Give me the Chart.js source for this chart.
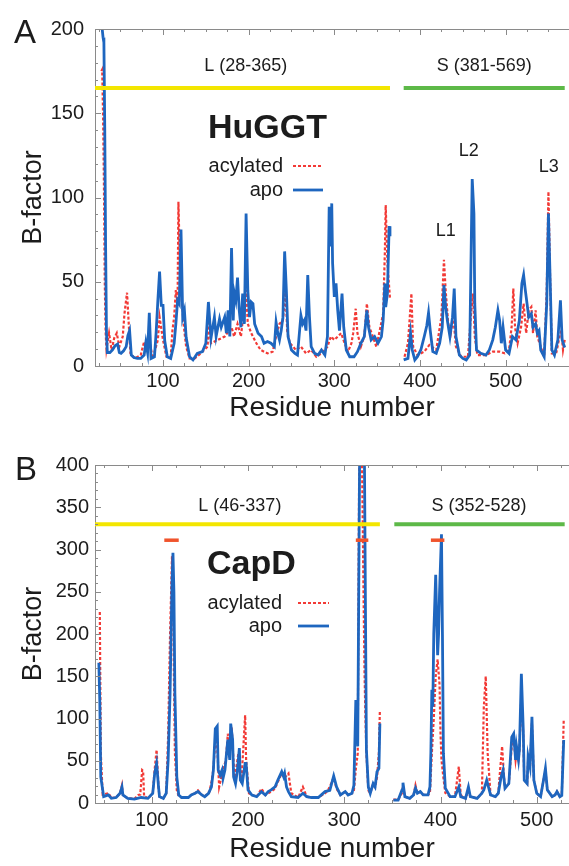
<!DOCTYPE html>
<html><head><meta charset="utf-8">
<script src="https://cdn.jsdelivr.net/npm/chart.js@4/dist/chart.umd.min.js"></script>
<style>
html,body{margin:0;padding:0;background:#fff;}
#wrap{position:relative;width:569px;height:866px;overflow:hidden;}
.box{position:absolute;left:0;width:569px;height:433px;}
</style></head><body>
<div id="wrap">
<div class="box" style="top:0"><canvas id="cA" width="569" height="433"></canvas></div>
<div class="box" style="top:433px"><canvas id="cB" width="569" height="433"></canvas></div>
</div>
<script>
// ---------- Panel A: HuGGT ----------
const aApoRes = [28,29,30,31,32,33,34,35,38,41,44,47,49,51,54,57,59,61,63,66,70,74,78,80,82,84,86,90,92,94,96,98,100,102,105,109,113,115,117,119,121,123,125,127,131,135,140,146,150,153,156,160,162,166,168,172,174,176,178,180,182,183,185,187,189,191,193,195,197,199,201,203,205,207,211,215,218,222,226,230,232,234,236,238,240,242,244,246,250,254,257,261,263,265,267,269,271,273,277,281,285,289,292,294,296,297,298,300,302,304,306,309,311,314,318,323,327,331,335,338,340,343,347,351,355,357,359,360,362,364,365,372,381,386,389,391,394,397,401,405,408,410,412,415,419,423,426,428,430,432,435,438,440,442,446,450,454,458,460,461,463,464,466,471,477,481,485,488,491,493,495,497,500,504,508,512,516,519,521,523,525,527,530,532,535,537,539,541,545,548,550,552,554,557,561,564,566,569];
const aApoVal = [230,200,195,192,140,70,20,8,8,9.5,12,13,8,7.5,9,11.5,18,21,6.5,5,4.5,4.5,6.5,14,8,31.5,4.5,5.5,20,39,56,36,36,15,5.5,4.5,13.5,25,39,37,81,29,33,17,5.5,3.6,7.5,8.5,13.5,38,16.5,29,17.5,28,23,29,19.5,33,17.5,70,27,44,39,52.5,33,23,43,25,90.5,45,29,38,37,25,19.5,17.5,13.5,14.5,13.5,11.5,26,19.5,15.5,21,29,68,45,17.5,9.5,7.5,6.5,30,25,27,21,54,29,11.5,7.5,6.5,9.5,6.5,17.5,94.5,71,96.5,61,41,49,33,21,43,23,9.5,5.5,5.5,8.5,13.5,17.5,33,23,15.5,17.5,13.5,17.5,27,49,35,43,83,77,null,3.6,4.5,19.5,9.5,3.6,5.5,9.5,17.5,24,31.5,21,8.5,7.5,13.5,23,48,35,27,17.5,29,46,17.5,6.5,4.5,3.6,6.5,77,111,90.5,37,9.5,7.5,6.5,9.5,15.5,23,33,27,13.5,23,9.5,7.5,17.5,15.5,27,49,54,45,37,29,31,23,25,19.5,21,9.5,5.5,37,90.5,51,9.5,6.5,15.5,39,15.5,11];
const aAcylRes = [28,29,30,31,32,33,34,37,40,43,46,49,53,55,58,60,62,67,74,78,81,84,88,94,96,100,104,109,111,113,115,117,118,120,122,124,127,131,137,144,152,154,156,164,172,180,183,187,191,197,199,203,209,214,222,228,232,236,240,243,245,248,252,255,261,267,273,279,285,292,296,300,304,308,312,316,320,322,325,327,331,335,338,341,345,349,353,357,359,360,362,364,365,372,382,386,390,392,397,405,411,419,425,428,430,433,436,439,442,448,456,460,462,464,467,477,485,493,499,504,507,509,511,514,518,521,524,527,530,532,535,537,541,545,548,550,552,554,559,563,565,567,569];
const aAcylVal = [175,176,150,110,50,20,10,19.5,9.5,16.5,19.5,11.5,17.5,31,43.5,25,7.5,4.5,6.5,14.5,10.5,15.5,4.5,15.5,29,15.5,5.5,5.5,21,29,45,37,97.5,55,39,25,11.5,4.5,4.5,7.5,11.5,27,13.5,15.5,17.5,23,17.5,25,17.5,45,25,19.5,13.5,9.5,7.5,8.5,17.5,25,27,45,21,13.5,11.5,9.5,11.5,7.5,9.5,5.5,7.5,11.5,17.5,15.5,17.5,19.5,13.5,8.5,13.5,19.5,34,19.5,11.5,17.5,37,23,17.5,11.5,21,31,67,95.5,61,47,40,null,5.5,13.5,43,11.5,6.5,8.5,12.5,9.5,29,63,45,25,19.5,29,11.5,5.5,5.5,33,43,17.5,6.5,6.5,8.5,8.5,7.5,9.5,23,46,23,13.5,23,37,19.5,33,35,19.5,33,17.5,11.5,5.5,45,103.5,51,7.5,7.5,17.5,21,9.5,15.5];
const aXTicks = [100,200,300,400,500];
const aYTicks = [0,50,100,150,200];
const aDomainLabels = ['L (28-365)','S (381-569)'];
const aDomainFrom = [20.6,381];
const aDomainTo = [365,569];
const aDomainLevel = 165;
const aLoopLabels = ['L1','L2','L3'];
const aLoopRes = [430,457,550.5];
const aLoopVal = [80,127.5,118];

// ---------- Panel B: CapD ----------
const bApoRes = [45,46,47,50,55,58,63,67,69,70,75,82,89,96,101,103,105,107,108,112,115,117,119,121,122,123,124,126,128,131,138,141,145,148,152,155,159,162,164,166,168,169,171,173,174,176,178,179,181,182,184,185,187,189,191,192,194,197,198,200,204,209,214,218,221,224,228,231,235,237,238,240,242,245,252,257,261,266,273,280,285,289,292,296,301,304,308,310,312,314,316,318,320,321,323,325,327,330,332,334,336,337,344,351,356,360,361,363,368,372,374,376,379,382,387,389,390,391,392,393,395,396,397,398,399,401,402,403,405,410,415,419,421,426,429,431,438,443,445,448,452,457,460,463,465,467,471,474,476,478,479,481,482,484,486,487,490,491,493,495,497,500,504,507,509,511,516,519,521,524,526,528];
const bApoVal = [166,120,31,7.5,9.5,5.5,6.5,11.5,19,9.5,5.5,4.5,6.5,5.5,11.5,35,47,19,7.5,5.5,11.5,51,130,260,296,250,130,31,9.5,6.5,6.5,9.5,11.5,13.5,9.5,7.5,11.5,19,39,88,91,39,33,39,29,39,63,75,51,94,75,31,23,39,65,27,23,47,47,15.5,9.5,7.5,13.5,9.5,13.5,15.5,19,27,37,31,35,19,13.5,7.5,6.5,11.5,7.5,6.5,6.5,13.5,15,32,19,9.5,13.5,9.5,11.5,21,122,67,420,600,480,400,63,19,11.5,23,19,37,41,94,null,3.5,3.5,15.5,24,7.5,5.5,9.5,17.5,11.5,13.5,9.5,9.5,19,60,134,114,200,270,220,175,200,250,318,200,59,17.5,7.5,7.5,19,7.5,5.5,19,7.5,5.5,11.5,15.5,27,9.5,7.5,11.5,31,39,17.5,23,78,82,51,67,51,63,153,86,27,23,55,43,102,27,11.5,7.5,27,41,15.5,7.5,9.5,13.5,7.5,9,74.5];
const bAcylRes = [46,47,49,55,58,63,67,69,70,75,82,86,88,90,91,92,96,101,103,105,107,108,112,115,117,119,121,122,123,124,126,128,131,138,141,145,148,152,155,160,162,164,166,168,170,174,177,179,181,183,186,190,193,197,198,201,204,209,214,218,224,228,231,235,238,242,245,252,257,261,266,273,280,283,286,289,292,296,301,304,308,310,312,314,315,316,318,320,321,322,323,325,327,330,332,334,336,337,344,351,356,360,361,363,368,372,374,376,379,382,387,389,391,393,395,397,399,400,401,403,405,410,415,419,421,426,429,431,438,443,445,447,449,452,457,460,462,464,466,467,471,474,476,478,479,481,482,484,486,487,490,491,493,495,497,500,504,507,509,511,516,519,521,524,526,528];
const bAcylVal = [226,60,10,11.5,6,6.5,11.5,21,9.5,5.5,5,9.5,10,39,38,8,5.5,11.5,40,63,19,7.5,5.5,11.5,80,200,292,260,150,60,15,8,6.5,6.5,9.5,11.5,15,9.5,7.5,13.5,25,40,75,67,19,39,51,82,55,90,27,59,23,104,51,11.5,9.5,7.5,17,9.5,13.5,17,25,35,30,35,11.5,6.5,19,7.5,6.5,6.5,11.5,15,22,30,17,9.5,13.5,9.5,11.5,15,40,59,300,500,450,250,157,100,59,15,11.5,23,19,30,60,110,null,4,4,12,20,7.5,5.5,9.5,21,11.5,13.5,9.5,9.5,12,59,100,150,170,140,82,51,30,12,7.5,7.5,43,9.5,5.5,15,7.5,5.5,11.5,114,150,59,9.5,7.5,11.5,40,67,30,17.5,23,67,78,51,60,51,63,130,80,27,23,50,43,95,27,11.5,7.5,27,38,15.5,7.5,9.5,13.5,7.5,9,98];
const bXTicks = [100,200,300,400,500];
const bYTicks = [0,50,100,150,200,250,300,350,400];
const bDomainLabels = ['L (46-337)','S (352-528)'];
const bDomainFrom = [41,352];
const bDomainTo = [337,529];
const bDomainLevel = 330;
const bLoopFrom = [113,312,390];
const bLoopTo = [128,325,404];
const bLoopLevel = 311;

// ---------- styling ----------
const BLUE = '#1e66bf', RED = '#f23a36', YELLOW = '#f3e600', GREEN = '#5db948', ORANGE = '#f0532c';
const AXIS = '#8a8a8a', TXT = '#1c1c1c';
const FONT = "'Liberation Sans', Arial, Helvetica, sans-serif";

function pts(res, val) { return res.map((r, i) => ({x: r, y: val[i]})); }
function segs(from, to, level, color, width) {
  return from.map((f, i) => ({data: [{x: f, y: level}, {x: to[i], y: level}], borderColor: color,
    borderWidth: width, pointRadius: 0, borderCapStyle: 'butt', order: 0}));
}

function makePlugin(p) {
  return {
    id: 'deco',
    afterDraw(chart) {
      const {ctx, chartArea: a, scales: {x, y}} = chart;
      ctx.save();
      ctx.strokeStyle = AXIS; ctx.lineWidth = 1;
      ctx.beginPath(); ctx.moveTo(a.left, a.top + 0.5); ctx.lineTo(a.right, a.top + 0.5); ctx.stroke();
      ctx.beginPath();
      for (let v = Math.ceil(x.min / 25) * 25; v <= x.max; v += 25) {
        const px = Math.round(x.getPixelForValue(v)) + 0.5;
        const len = v % 100 === 0 ? 6 : 3;
        ctx.moveTo(px, a.bottom); ctx.lineTo(px, a.bottom - len);
        ctx.moveTo(px, a.top); ctx.lineTo(px, a.top + len);
      }
      for (let v = 0; v <= y.max; v += 10) {
        const py = Math.round(y.getPixelForValue(v)) + 0.5;
        const len = v % 50 === 0 ? 6 : 3;
        ctx.moveTo(a.left, py); ctx.lineTo(a.left + len, py);
      }
      ctx.stroke();
      ctx.fillStyle = TXT;
      ctx.font = `33px ${FONT}`; ctx.textAlign = 'left'; ctx.textBaseline = 'alphabetic';
      ctx.fillText(p.letter, p.letterX, p.letterY);
      ctx.font = `bold 34px ${FONT}`;
      ctx.fillText(p.name, p.nameX, p.nameY);
      ctx.font = `18px ${FONT}`; ctx.textAlign = 'center'; ctx.textBaseline = 'middle';
      p.domainLabels.forEach((t) => {
        const m = t.match(/\((\d+)-(\d+)\)/);
        const cx = x.getPixelForValue((+m[1] + +m[2]) / 2);
        ctx.fillText(t, cx, y.getPixelForValue(p.domainLevel) - p.labelOff);
      });
      if (p.loopLabels) {
        p.loopLabels.forEach((t, i) => ctx.fillText(t, x.getPixelForValue(p.loopRes[i]), y.getPixelForValue(p.loopVal[i])));
      }
      ctx.font = `20px ${FONT}`; ctx.textAlign = 'right';
      ctx.fillText('acylated', p.legX, p.legY1);
      ctx.fillText('apo', p.legX, p.legY2);
      ctx.lineWidth = 2.2; ctx.strokeStyle = RED; ctx.setLineDash([3, 2]);
      ctx.beginPath(); ctx.moveTo(p.sampX0, p.legY1); ctx.lineTo(p.sampX1, p.legY1); ctx.stroke();
      ctx.setLineDash([]); ctx.lineWidth = 2.8; ctx.strokeStyle = BLUE;
      ctx.beginPath(); ctx.moveTo(p.sampX0, p.legY2); ctx.lineTo(p.sampX1, p.legY2); ctx.stroke();
      ctx.restore();
    }
  };
}

function makeChart(id, c) {
  const datasets = [
    {data: pts(c.apoRes, c.apoVal), borderColor: BLUE, borderWidth: 2.8, pointRadius: 0, tension: 0, spanGaps: false, order: 1},
    {data: pts(c.acylRes, c.acylVal), borderColor: RED, borderWidth: 2.2, borderDash: [3, 2], pointRadius: 0, tension: 0, spanGaps: false, order: 2},
    ...c.extra
  ];
  return new Chart(document.getElementById(id), {
    type: 'line',
    data: {datasets},
    options: {
      responsive: false, animation: false, devicePixelRatio: 1,
      layout: {padding: {top: c.padTop, left: 0, right: 0, bottom: 0}},
      plugins: {legend: {display: false}, tooltip: {enabled: false}},
      scales: {
        x: {
          type: 'linear', min: c.xmin, max: c.xmax,
          afterBuildTicks: s => { s.ticks = c.xTicks.map(v => ({value: v})); },
          afterFit: s => { s.height = c.xh; },
          grid: {display: false, drawTicks: false},
          border: {display: true, color: AXIS, width: 1},
          ticks: {padding: c.xtp, color: TXT, font: {family: FONT, size: 20}, maxRotation: 0, autoSkip: false},
          title: {display: true, text: 'Residue number', color: TXT, font: {family: FONT, size: 28}, padding: {top: 0, bottom: c.xtitlePad}}
        },
        y: {
          type: 'linear', min: 0, max: c.ymax,
          afterBuildTicks: s => { s.ticks = c.yTicks.map(v => ({value: v})); },
          afterFit: s => { s.width = 95; },
          grid: {display: false, drawTicks: false},
          border: {display: true, color: AXIS, width: 1},
          ticks: {padding: c.ytp, color: TXT, font: {family: FONT, size: 20}},
          title: {display: true, text: 'B-factor', color: TXT, font: {family: FONT, size: 27}, padding: {top: 17, bottom: 0}}
        }
      }
    },
    plugins: [makePlugin(c.deco)]
  });
}

makeChart('cA', {
  apoRes: aApoRes, apoVal: aApoVal, acylRes: aAcylRes, acylVal: aAcylVal,
  extra: [...segs(aDomainFrom.slice(0,1), aDomainTo.slice(0,1), aDomainLevel, YELLOW, 4),
          ...segs(aDomainFrom.slice(1), aDomainTo.slice(1), aDomainLevel, GREEN, 4)],
  xmin: 20.6, xmax: 574, ymax: 200, xTicks: aXTicks, yTicks: aYTicks,
  padTop: 29, xh: 67, xtp: 3.5, ytp: 11, xtitlePad: 8,
  deco: {letter: 'A', letterX: 14, letterY: 43, name: 'HuGGT', nameX: 208, nameY: 138,
    domainLabels: aDomainLabels, domainLevel: aDomainLevel, labelOff: 22,
    loopLabels: aLoopLabels, loopRes: aLoopRes, loopVal: aLoopVal,
    legX: 283, legY1: 166, legY2: 190, sampX0: 293, sampX1: 323}
});

makeChart('cB', {
  apoRes: bApoRes, apoVal: bApoVal, acylRes: bAcylRes, acylVal: bAcylVal,
  extra: [...segs(bDomainFrom.slice(0,1), bDomainTo.slice(0,1), bDomainLevel, YELLOW, 4),
          ...segs(bDomainFrom.slice(1), bDomainTo.slice(1), bDomainLevel, GREEN, 4),
          ...segs(bLoopFrom, bLoopTo, bLoopLevel, ORANGE, 3.5)],
  xmin: 41, xmax: 533.5, ymax: 400, xTicks: bXTicks, yTicks: bYTicks,
  padTop: 32, xh: 63, xtp: 5.5, ytp: 6, xtitlePad: 0,
  deco: {letter: 'B', letterX: 15, letterY: 47, name: 'CapD', nameX: 207, nameY: 141,
    domainLabels: bDomainLabels, domainLevel: bDomainLevel, labelOff: 18,
    legX: 282, legY1: 170, legY2: 193, sampX0: 298, sampX1: 329}
});
</script>
</body></html>
